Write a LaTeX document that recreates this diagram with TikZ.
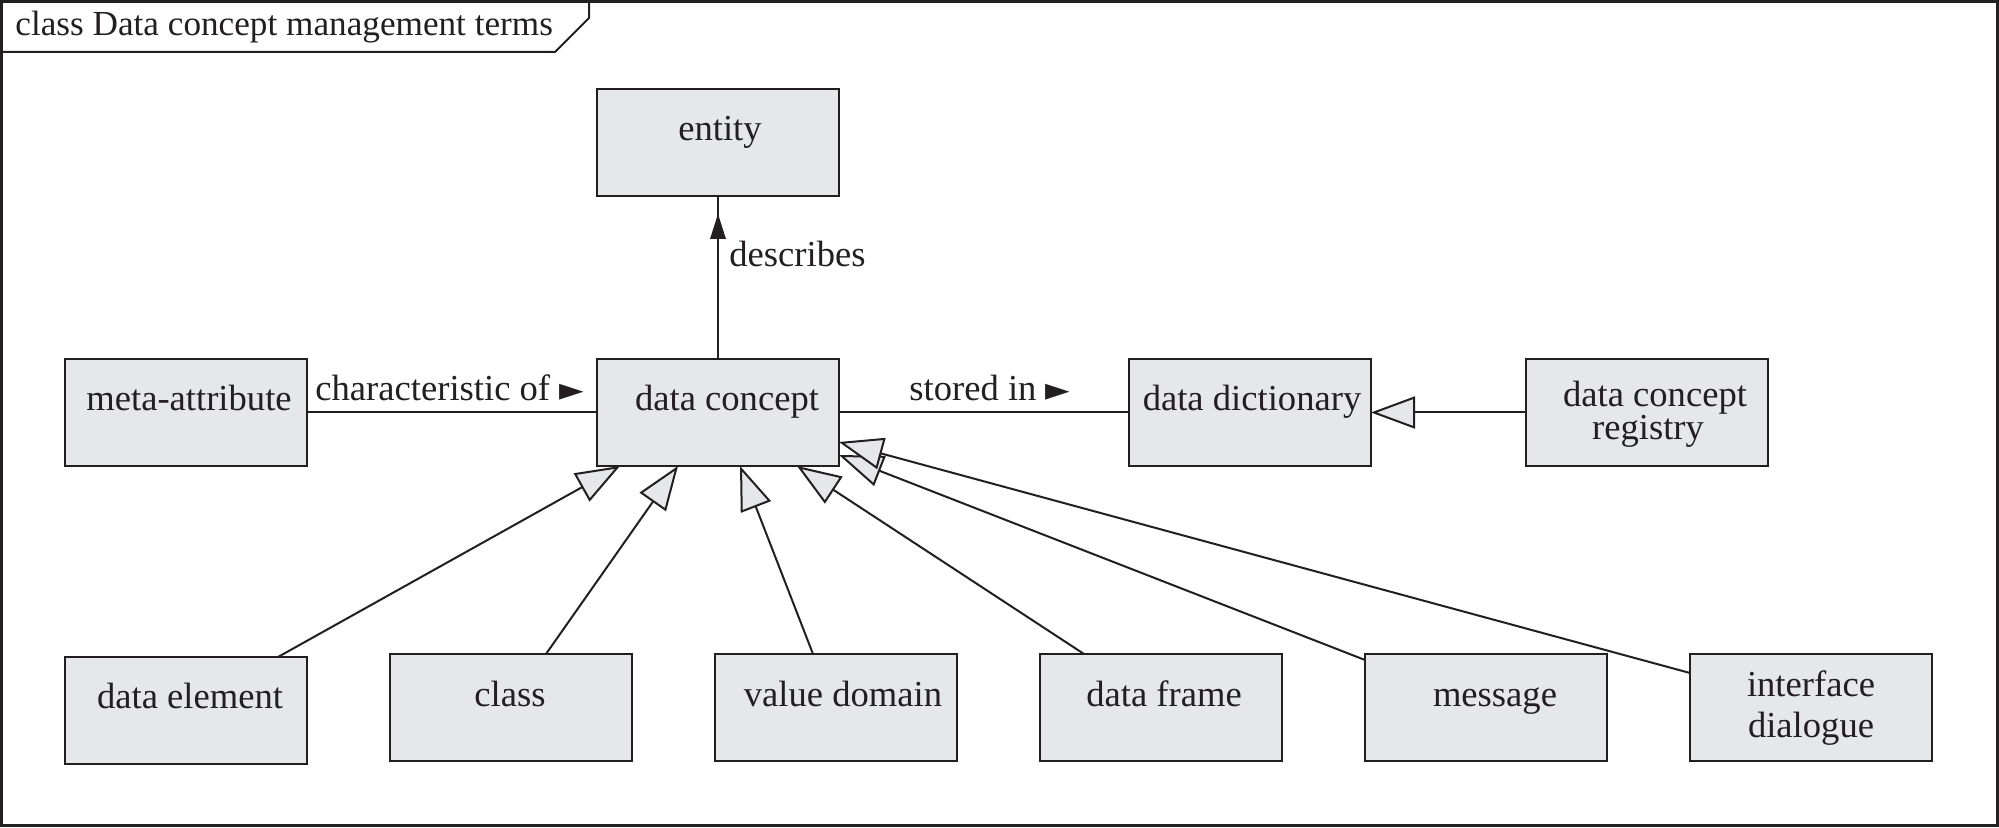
\documentclass[tikz,border=0pt]{standalone}
\usepackage{fontspec}
\setmainfont{Liberation Serif}
\newfontfamily\symfont{DejaVu Sans}
\newcommand\ptrglyph{{\symfont\fontsize{16}{16}\selectfont ►}}
\usetikzlibrary{arrows.meta,calc}
\definecolor{boxfill}{HTML}{E6E7E8}
\definecolor{ink}{HTML}{231F20}
\begin{document}
\begin{tikzpicture}[x=0.5pt,y=-0.5pt,
  umlbox/.style={draw=ink, fill=boxfill, line width=1.1pt, minimum width=121pt, minimum height=53.5pt, inner sep=0pt, outer sep=0pt, anchor=north west},
  txt/.style={anchor=base, inner sep=0pt, text=ink, font=\fontsize{18.3}{21}\selectfont},
  lbl/.style={txt, anchor=base west},
  conn/.style={draw=ink, line width=1pt},
  gen/.style={conn, line join=miter, -{Triangle[length=22pt,width=16pt,fill=boxfill]}}
]
\useasboundingbox (0,0) rectangle (1999,828);
% frame
\draw[ink, line width=1.5pt] (1.5,1.5) rectangle (1997,825.5);
\draw[ink, line width=1pt] (1.5,52) -- (555,52) -- (589,18) -- (589,1.5);
\node[lbl, font=\fontsize{17.6}{21}\selectfont] (title) at (15,36) {class Data concept management terms};
% boxes
\node[umlbox] (ent) at (597,89) {};
\node[umlbox] (ma) at (65,359) {};
\node[umlbox] (dc) at (597,359) {};
\node[umlbox] (dd) at (1129,359) {};
\node[umlbox] (dcr) at (1526,359) {};
\node[umlbox] (de) at (65,657) {};
\node[umlbox] (cl) at (390,654) {};
\node[umlbox] (vd) at (715,654) {};
\node[umlbox] (df) at (1040,654) {};
\node[umlbox] (msg) at (1365,654) {};
\node[umlbox] (idl) at (1690,654) {};
% box texts
\node[txt] (entT) at ($(ent.north)+(2,52)$) {entity};
\node[txt] (maT) at ($(ma.north)+(3,52)$) {meta-attribute};
\node[txt] (dcT) at ($(dc.north)+(9,52)$) {data concept};
\node[txt] (ddT) at ($(dd.north)+(2,52)$) {data dictionary};
\node[txt] (dcrT1) at ($(dcr.north)+(8,48)$) {data concept};
\node[txt] (dcrT2) at ($(dcr.north)+(1,81)$) {registry};
\node[txt] (deT) at ($(de.north)+(4,51)$) {data element};
\node[txt] (clT) at ($(cl.north)+(-1,52)$) {class};
\node[txt] (vdT) at ($(vd.north)+(7,52)$) {value domain};
\node[txt] (dfT) at ($(df.north)+(3,52)$) {data frame};
\node[txt] (msgT) at ($(msg.north)+(9,52)$) {message};
\node[txt] (idT1) at ($(idl.north)+(0,43)$) {interface};
\node[txt] (idT2) at ($(idl.north)+(0,83)$) {dialogue};
% associations
\draw[conn] (dc.north) -- (ent.south);
\fill[ink] ($(ent.south)+(0,18)$) -- ++(-8,25) -- ++(16,0) -- cycle;
\node[lbl] (descL) at ($(ent.south)+(11,71)$) {describes};
\draw[conn] (ma.east) -- (dc.west);
\node[lbl] (charL) at ($(ma.east)+(8,-12)$) {characteristic of \ptrglyph};
\draw[conn] (dc.east) -- (dd.west);
\node[lbl] (storL) at ($(dc.east)+(70,-12)$) {stored in \ptrglyph};
% generalizations
\draw[gen] (dcr.west) -- (dd.east);
\draw[gen] ($(de.north west)+(213,0)$) -- ($(dc.south west)+(23,0)$);
\draw[gen] ($(cl.north west)+(156,0)$) -- ($(dc.south west)+(81,0)$);
\draw[gen] ($(vd.north west)+(98,0)$) -- ($(dc.south west)+(143,0)$);
\draw[gen] ($(df.north west)+(44,0)$) -- ($(dc.south west)+(200,0)$);
\draw[gen] ($(msg.north west)+(0,6)$) -- ($(dc.south east)+(0,-11)$);
\draw[gen] ($(idl.north west)+(0,19)$) -- ($(dc.south east)+(0,-24)$);
\end{tikzpicture}
\end{document}
